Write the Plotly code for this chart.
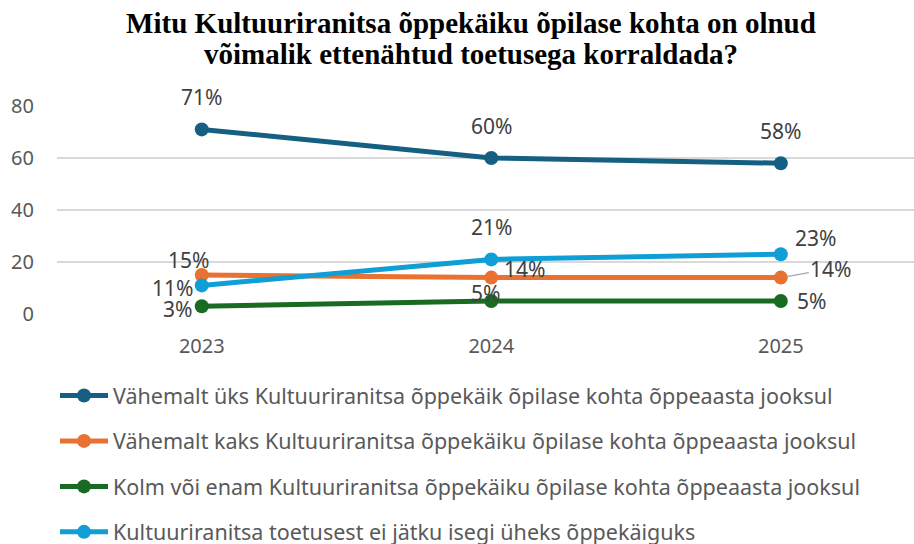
import plotly.graph_objects as go

years = ["2023", "2024", "2025"]
series_names = [
    "Vähemalt üks Kultuuriranitsa õppekäik õpilase kohta õppeaasta jooksul",
    "Vähemalt kaks Kultuuriranitsa õppekäiku õpilase kohta õppeaasta jooksul",
    "Kolm või enam Kultuuriranitsa õppekäiku õpilase kohta õppeaasta jooksul",
    "Kultuuriranitsa toetusest ei jätku isegi üheks õppekäiguks",
]
one_or_more = [71, 60, 58]
two_or_more = [15, 14, 14]
three_or_more = [3, 5, 5]
not_enough = [11, 21, 23]
y_ticks = [0, 20, 40, 60, 80]

series_values = [one_or_more, two_or_more, three_or_more, not_enough]
colors = ["#156082", "#E97132", "#196B24", "#0F9ED5"]

# label offsets (px) per series per point: (xshift, yshift)
label_offsets = [
    [(0, 32), (0, 32), (0, 32)],
    [(-13, 15), (33, 9), (50, 9)],
    [(-24, -3), (-6, 8), (31, 0)],
    [(-29, -3), (0, 32), (35, 16)],
]

FONT = "Noto Sans"
LABEL_FONT = dict(family=FONT, size=21, color="#404040")
fig = go.Figure()
for i, (name, vals, col) in enumerate(zip(series_names, series_values, colors)):
    fig.add_trace(go.Scatter(
        x=years, y=vals, name=name, mode="lines+markers",
        line=dict(color=col, width=5),
        marker=dict(color=col, size=14),
        legendgroup=f"g{i}",
        cliponaxis=False,
    ))

for i, vals in enumerate(series_values):
    for j, v in enumerate(vals):
        dx, dy = label_offsets[i][j]
        if i == 1 and j == 2:
            # label with a leader line
            fig.add_annotation(x=j, y=v, xref="x", yref="y", text=f"{v}%",
                               showarrow=True, arrowhead=0, arrowwidth=1.2,
                               arrowcolor="#A6A6A6", ax=dx, ay=-dy, standoff=6,
                               font=LABEL_FONT)
        else:
            fig.add_annotation(x=j, y=v, xref="x", yref="y", text=f"{v}%",
                               showarrow=False, xshift=dx, yshift=dy,
                               font=LABEL_FONT)

title_lines = [
    "Mitu Kultuuriranitsa õppekäiku õpilase kohta on olnud",
    "võimalik ettenähtud toetusega korraldada?",
]
title_text = "<br>".join(
    f'<span style="font-size:29px"><b>{t}</b></span>' for t in title_lines)

fig.update_layout(
    width=914, height=544,
    margin=dict(l=57, r=0, t=106, b=230, autoexpand=False),
    paper_bgcolor="white", plot_bgcolor="white",
    title=dict(
        text=title_text,
        font=dict(family="Liberation Serif", size=23.5, color="black"),
        x=471 / 914, xanchor="center", xref="container",
        y=1 - 33 / 544, yanchor="top", yref="container",
    ),
    xaxis=dict(
        type="category", range=[-0.5, 2.46], showgrid=False, zeroline=False,
        showline=False, ticks="", tickfont=dict(family=FONT, size=20, color="#595959"),
        ticklabelstandoff=18, tickangle=0, automargin=False,
    ),
    yaxis=dict(
        range=[0, 80], tickvals=y_ticks, showgrid=True, gridcolor="#D9D9D9",
        gridwidth=1.5, zeroline=False, showline=False, ticks="",
        tickfont=dict(family=FONT, size=20, color="#595959"),
        ticklabelstandoff=22, automargin=False,
    ),
    legend=dict(
        orientation="v", traceorder="grouped", tracegroupgap=14.5,
        xref="container", yref="container", x=55 / 914, y=1 - 375 / 544,
        xanchor="left", yanchor="top",
        font=dict(family=FONT, size=21.5, color="#595959"),
        itemwidth=48, bgcolor="rgba(0,0,0,0)",
    ),
    showlegend=True,
)

fig.write_html("out.html", config={"displayModeBar": False},
               post_script="document.body.style.margin='0';")
